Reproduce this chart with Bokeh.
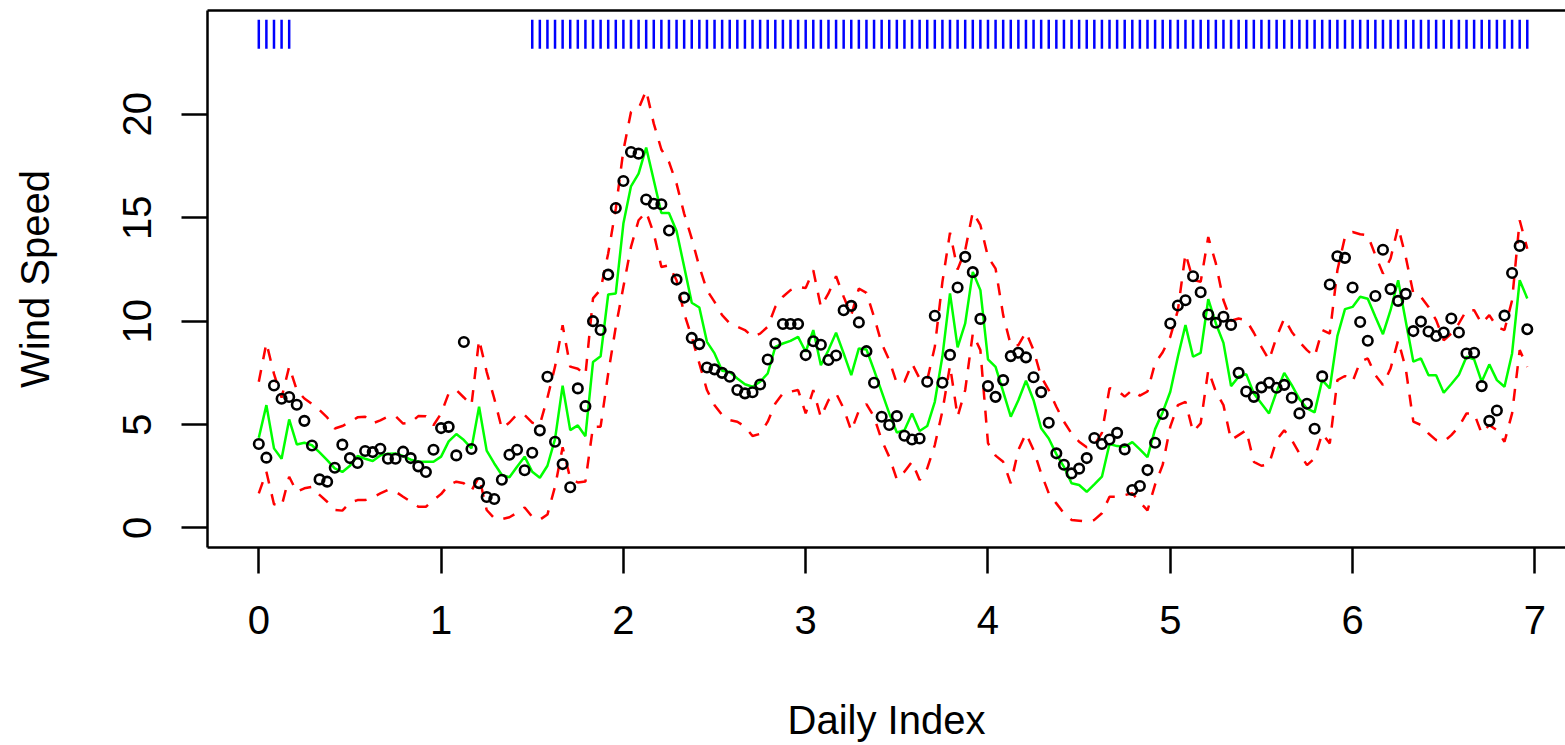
from bokeh.plotting import figure
from bokeh.models import Range1d, FixedTicker, LinearAxis, ColumnDataSource
from bokeh.embed import file_html
from bokeh.resources import INLINE

# ---- data (hourly observations, x = hour / 24) ----
wind_obs = [4.06,3.40,6.89,6.25,6.33,5.96,5.18,3.99,2.35,2.24,2.91,4.03,
            3.38,3.14,3.72,3.67,3.83,3.35,3.35,3.69,3.38,2.98,2.71,3.78,
            4.83,4.89,3.51,8.99,3.82,2.17,1.50,1.40,2.33,3.54,3.78,2.79,
            3.64,4.72,7.31,4.17,3.09,1.97,6.75,5.89,10.00,9.57,12.25,15.47,
            16.78,18.18,18.10,15.88,15.68,15.65,14.38,12.01,11.14,9.19,8.89,7.76,
            7.67,7.50,7.31,6.67,6.51,6.56,6.94,8.15,8.92,9.86,9.86,9.86,
            8.36,9.03,8.86,8.12,8.34,10.53,10.74,9.94,8.55,7.02,5.38,4.98,
            5.41,4.46,4.28,4.33,7.07,10.26,7.02,8.37,11.63,13.11,12.37,10.11,
            6.86,6.34,7.15,8.31,8.47,8.25,7.29,6.57,5.09,3.61,3.06,2.64,
            2.87,3.38,4.35,4.06,4.28,4.60,3.80,1.84,2.03,2.80,4.12,5.51,
            9.89,10.76,11.01,12.17,11.40,10.32,9.92,10.21,9.82,7.50,6.60,6.34,
            6.80,7.02,6.78,6.92,6.30,5.54,6.01,4.80,7.33,11.77,13.14,13.06,
            11.63,9.96,9.05,11.22,13.45,11.55,10.98,11.32,9.52,9.98,9.50,9.28,
            9.45,10.13,9.45,8.44,8.47,6.86,5.18,5.68,10.27,12.33,13.64,9.61]

fitted = [4.36,5.94,3.85,3.35,5.25,4.04,4.12,4.00,3.66,3.28,2.88,2.71,
          3.01,3.48,3.35,3.24,3.51,3.59,3.60,3.48,3.30,3.22,3.20,3.20,
          3.45,4.19,4.54,4.25,3.85,5.86,3.74,3.12,2.56,2.45,2.96,3.45,
          2.72,2.43,3.01,4.30,6.88,4.73,4.96,4.44,8.02,8.30,11.29,11.34,
          14.72,16.52,17.13,18.39,16.81,15.23,15.23,14.36,12.63,10.89,10.66,9.00,
          8.44,7.60,7.54,7.23,6.95,6.83,7.07,7.47,8.76,8.92,9.05,9.24,
          8.52,9.57,7.87,8.60,9.44,8.44,7.39,8.68,8.63,7.63,6.59,5.54,
          4.62,4.73,5.54,4.69,4.93,6.10,8.30,11.34,8.73,9.89,12.38,11.50,
          8.15,7.79,6.59,5.38,6.18,7.12,6.18,4.82,4.33,3.57,2.96,2.16,
          2.08,1.75,2.11,2.48,4.06,3.96,3.93,4.15,3.80,3.43,4.78,5.60,
          6.59,8.28,9.81,8.28,8.47,11.06,9.89,8.95,6.86,7.31,7.44,6.50,
          6.02,5.54,6.59,7.50,6.91,6.23,5.78,5.59,7.15,6.75,9.28,10.58,
          10.69,11.18,11.08,10.21,9.37,10.53,11.98,10.00,8.04,8.20,7.39,7.39,
          6.54,6.96,7.41,8.28,8.15,7.07,7.91,7.15,6.83,8.44,11.98,11.10]

upper = [7.07,8.95,7.45,6.30,7.80,6.67,6.26,6.00,5.70,5.35,4.81,4.93,
         5.12,5.35,5.38,5.06,5.20,5.38,5.41,5.05,5.09,5.41,5.40,4.97,
         5.53,6.51,6.67,6.31,5.94,9.11,7.55,6.26,4.80,5.10,5.50,5.46,
         5.09,5.00,6.30,7.80,9.80,7.80,7.70,7.40,11.10,11.53,13.27,15.44,
         18.26,20.11,20.27,21.16,19.55,18.30,17.70,16.65,15.20,13.99,12.63,11.50,
         10.93,10.29,9.89,9.73,9.57,9.25,9.40,9.73,10.69,11.18,11.50,11.66,
         11.60,12.46,10.69,11.34,12.17,11.18,10.29,11.58,11.37,10.21,8.92,8.12,
         6.99,7.07,7.95,7.23,7.15,8.76,11.90,14.28,12.50,13.43,15.28,14.64,
         13.11,12.54,10.29,8.84,8.84,9.48,8.60,7.31,6.67,5.86,5.14,4.57,
         4.17,3.90,4.00,4.60,6.76,6.67,6.35,6.67,6.40,6.60,7.97,8.50,
         9.24,10.53,13.27,12.00,11.90,14.07,12.79,11.01,10.02,10.13,10.05,9.44,
         8.76,8.12,9.24,10.13,9.48,9.00,8.60,8.28,9.57,9.40,12.46,14.07,
         14.31,14.20,14.15,13.19,12.30,13.03,14.56,13.11,11.34,11.18,10.69,10.05,
         9.08,9.40,9.89,10.53,10.53,9.89,10.29,9.73,9.57,11.01,14.88,13.50]

lower = [1.67,2.72,1.15,1.05,2.48,1.75,1.92,1.99,1.60,1.27,0.87,0.84,
         1.22,1.35,1.35,1.48,1.67,1.84,1.76,1.51,1.27,1.03,1.03,1.35,
         1.64,2.08,2.24,2.16,1.80,2.48,0.87,0.47,0.43,0.52,0.74,0.99,
         0.54,0.40,0.65,2.00,3.90,2.40,2.20,2.25,4.90,4.90,7.47,9.73,
         11.66,13.59,14.88,15.28,14.24,12.62,12.70,11.98,10.37,9.24,7.96,6.67,
         5.94,5.46,5.22,5.14,4.90,4.45,4.55,5.14,6.02,6.51,6.59,6.67,
         5.54,6.67,5.35,6.18,6.51,5.78,4.70,5.67,5.99,5.38,4.25,3.44,
         2.35,2.72,3.20,2.32,2.88,4.01,5.65,7.85,5.38,6.67,9.40,8.60,
         4.10,3.50,3.20,2.16,3.77,4.57,3.77,2.64,1.68,1.19,0.71,0.39,
         0.35,0.31,0.39,0.71,1.51,1.51,1.59,1.68,1.25,0.85,2.10,3.05,
         4.90,5.94,6.10,4.65,5.06,7.63,6.59,5.94,4.25,4.49,4.73,3.20,
         3.01,3.09,4.25,4.73,4.25,3.61,3.04,3.37,4.57,4.09,7.15,7.35,
         7.07,8.04,8.20,7.39,6.91,7.71,9.08,7.71,5.14,4.98,4.57,4.25,
         4.17,4.49,4.90,5.54,5.54,4.57,4.98,4.73,4.17,5.54,8.60,7.79]

# hours flagged in the rug at the top
rug_hours = list(range(0, 5)) + list(range(36, 168))

x_ticks = [0, 1, 2, 3, 4, 5, 6, 7]
y_ticks = [0, 5, 10, 15, 20]

hours = list(range(len(wind_obs)))
xs = [h / 24 for h in hours]
src = ColumnDataSource(dict(x=xs, obs=wind_obs, fit=fitted, up=upper, lo=lower))
rug_src = ColumnDataSource(dict(x=[h / 24 for h in rug_hours]))

FONT = "Liberation Sans"
LW = 2.5

p = figure(width=1565, height=745,
           x_range=Range1d(-0.2814, 7.168), y_range=Range1d(-0.943, 25.02),
           output_backend="svg", toolbar_location=None,
           min_border_left=207, min_border_right=0,
           min_border_top=10, min_border_bottom=198)
p.outline_line_color = None
p.xgrid.visible = False
p.ygrid.visible = False
p.background_fill_color = "white"
p.border_fill_color = "white"

for ax in (p.xaxis[0], p.yaxis[0]):
    ax.axis_line_width = LW
    ax.axis_line_color = "black"
    ax.major_tick_line_width = LW
    ax.major_tick_line_color = "black"
    ax.major_tick_in = 0
    ax.major_tick_out = 26
    ax.minor_tick_line_color = None
    ax.major_label_text_font = FONT
    ax.major_label_text_font_size = "40px"
    ax.major_label_text_color = "black"
    ax.axis_label_text_font = FONT
    ax.axis_label_text_font_size = "40px"
    ax.axis_label_text_font_style = "normal"
    ax.axis_label_text_color = "black"

p.xaxis.ticker = FixedTicker(ticks=x_ticks)
p.yaxis.ticker = FixedTicker(ticks=y_ticks)
p.xaxis.axis_label = "Daily Index"
p.yaxis.axis_label = "Wind Speed"
p.xaxis.major_label_standoff = 32
p.yaxis.major_label_standoff = 30
p.yaxis.major_label_orientation = "vertical"
p.xaxis.axis_label_standoff = 61
p.yaxis.axis_label_standoff = 64

top = LinearAxis(ticker=FixedTicker(ticks=[]), axis_line_width=LW,
                 major_tick_out=0, major_tick_in=0, minor_tick_out=0,
                 minor_tick_in=0, major_label_text_font_size="0px",
                 major_label_standoff=0)
p.add_layout(top, "above")

p.line("x", "up", source=src, line_color="#FF0000", line_width=LW, line_dash="12 11")
p.line("x", "lo", source=src, line_color="#FF0000", line_width=LW, line_dash="12 11")
p.line("x", "fit", source=src, line_color="#00FF00", line_width=LW)
p.scatter("x", "obs", source=src, marker="circle", size=9.5, fill_color=None,
          line_color="black", line_width=2.6)
p.segment(x0="x", y0=23.17, x1="x", y1=24.57, source=rug_src,
          line_color="#0000FF", line_width=LW)

open("out.html", "w").write(file_html(p, INLINE))
